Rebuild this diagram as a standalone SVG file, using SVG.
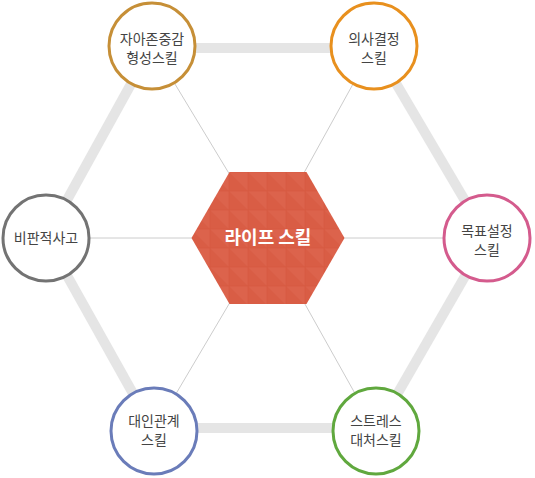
<svg xmlns="http://www.w3.org/2000/svg" width="535" height="478" viewBox="0 0 535 478">
<style>
.bar{stroke:#e5e5e5;stroke-width:10;fill:none}
.thin{stroke:#cccccc;stroke-width:1;fill:none}
.node{fill:#ffffff;stroke-width:3}
.lbl{font-family:"Noto Sans CJK KR","Noto Sans",sans-serif;font-size:14px;fill:#444444;text-anchor:middle}
.ctr{font-family:"Noto Sans CJK KR","Noto Sans",sans-serif;font-size:18px;font-weight:bold;fill:#ffffff;text-anchor:middle}
</style>
<defs>
<pattern id="tri" x="191" y="172" width="19" height="19" patternUnits="userSpaceOnUse">
<rect width="19" height="19" fill="#d95d45"/>
<polygon points="0,0 19,0 19,19" fill="#dc634c"/>
<rect width="19" height="19" fill="none" stroke="#d6583f" stroke-width="0.7"/>
</pattern>
</defs>
<g id="connectors">
<line class="bar" x1="152" y1="48" x2="374" y2="48"/>
<line class="bar" x1="374" y1="46" x2="487" y2="238"/>
<line class="bar" x1="487" y1="238" x2="376" y2="431"/>
<line class="bar" x1="376" y1="428" x2="154" y2="428"/>
<line class="bar" x1="154" y1="431" x2="46" y2="238"/>
<line class="bar" x1="46" y1="238" x2="152" y2="46"/>
<line class="thin" x1="268" y1="238" x2="152" y2="46"/>
<line class="thin" x1="268" y1="238" x2="374" y2="46"/>
<line class="thin" x1="268" y1="238" x2="487" y2="238"/>
<line class="thin" x1="268" y1="238" x2="376" y2="431"/>
<line class="thin" x1="268" y1="238" x2="154" y2="431"/>
<line class="thin" x1="268" y1="238" x2="46" y2="238"/>
</g>
<g id="center">
<polygon points="191.5,238 229.5,172 306.5,172 344.5,238 306.5,304 229.5,304" fill="url(#tri)"/>
<text class="ctr" x="268" y="244">라이프 스킬</text>
</g>
<g id="n-selfesteem">
<circle class="node" cx="152" cy="46" r="43" stroke="#c68f37"/>
<text class="lbl" x="152" y="44">자아존중감</text>
<text class="lbl" x="152" y="63">형성스킬</text>
</g>
<g id="n-decision">
<circle class="node" cx="374" cy="46" r="43" stroke="#e8901e"/>
<text class="lbl" x="374" y="44">의사결정</text>
<text class="lbl" x="374" y="63">스킬</text>
</g>
<g id="n-goal">
<circle class="node" cx="487" cy="238" r="43" stroke="#d45b8d"/>
<text class="lbl" x="487" y="236">목표설정</text>
<text class="lbl" x="487" y="255">스킬</text>
</g>
<g id="n-stress">
<circle class="node" cx="376" cy="431" r="43" stroke="#60a83e"/>
<text class="lbl" x="376" y="426">스트레스</text>
<text class="lbl" x="376" y="445">대처스킬</text>
</g>
<g id="n-relation">
<circle class="node" cx="154" cy="431" r="43" stroke="#6a7cb9"/>
<text class="lbl" x="154" y="426">대인관계</text>
<text class="lbl" x="154" y="445">스킬</text>
</g>
<g id="n-critical">
<circle class="node" cx="46" cy="238" r="43" stroke="#737373"/>
<text class="lbl" x="46" y="243">비판적사고</text>
</g>
</svg>
